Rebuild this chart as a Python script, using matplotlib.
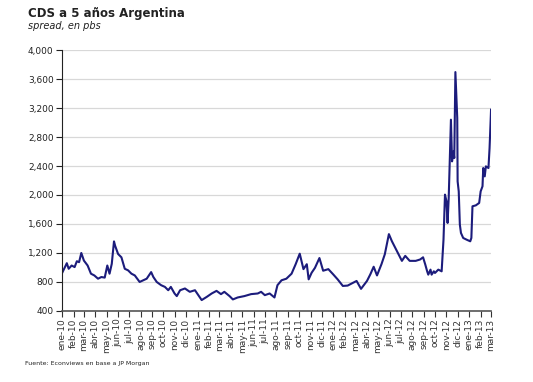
import numpy as np
import pandas as pd
import matplotlib
matplotlib.use('Agg')
import matplotlib.pyplot as plt
import matplotlib.dates as mdates
from matplotlib.ticker import FuncFormatter

# datos (CDS 5 años, pbs)
fechas = ['2010-01-01', '2010-01-14', '2010-01-19', '2010-01-27', '2010-02-04', '2010-02-10',
          '2010-02-16', '2010-02-22', '2010-03-01', '2010-03-11', '2010-03-20', '2010-03-29',
          '2010-04-08', '2010-04-17', '2010-04-26', '2010-05-03', '2010-05-09', '2010-05-15',
          '2010-05-21', '2010-05-24', '2010-06-01', '2010-06-10', '2010-06-19', '2010-06-28',
          '2010-07-07', '2010-07-16', '2010-07-29', '2010-08-08', '2010-08-17', '2010-08-29',
          '2010-09-04', '2010-09-13', '2010-09-25', '2010-10-05', '2010-10-14', '2010-10-21',
          '2010-10-31', '2010-11-06', '2010-11-15', '2010-11-28', '2010-12-11', '2010-12-25',
          '2011-01-12', '2011-01-26', '2011-02-08', '2011-02-21', '2011-03-05', '2011-03-14',
          '2011-03-28', '2011-04-06', '2011-04-19', '2011-05-07', '2011-05-25', '2011-06-12',
          '2011-06-21', '2011-07-01', '2011-07-14', '2011-07-27', '2011-08-04', '2011-08-15',
          '2011-08-28', '2011-09-11', '2011-09-22', '2011-10-03', '2011-10-13', '2011-10-22',
          '2011-10-27', '2011-11-04', '2011-11-13', '2011-11-25', '2011-12-05', '2011-12-19',
          '2012-01-01', '2012-01-13', '2012-01-27', '2012-02-09', '2012-02-24', '2012-03-04',
          '2012-03-16', '2012-04-01', '2012-04-10', '2012-04-19', '2012-04-28', '2012-05-10',
          '2012-05-19', '2012-05-30', '2012-06-07', '2012-06-16', '2012-06-25', '2012-07-04',
          '2012-07-13', '2012-07-25', '2012-08-10', '2012-08-22', '2012-08-30', '2012-09-05',
          '2012-09-10', '2012-09-13', '2012-09-19', '2012-09-22', '2012-09-28', '2012-10-01',
          '2012-10-10', '2012-10-19', '2012-10-24', '2012-10-28', '2012-11-01', '2012-11-04',
          '2012-11-07', '2012-11-13', '2012-11-16', '2012-11-20', '2012-11-22', '2012-11-25',
          '2012-11-30', '2012-12-01', '2012-12-04', '2012-12-07', '2012-12-10', '2012-12-16',
          '2012-12-25', '2013-01-04', '2013-01-07', '2013-01-10', '2013-01-19', '2013-01-28',
          '2013-02-01', '2013-02-06', '2013-02-08', '2013-02-12', '2013-02-15', '2013-02-22',
          '2013-02-25', '2013-03-01']
cds = [920, 1059, 982, 1027, 1005, 1086,
       1073, 1200, 1095, 1027, 914, 890,
       845, 868, 860, 1027, 914, 1050,
       1360, 1300, 1186, 1140, 982, 960,
       914, 890, 800, 823, 845, 936,
       868, 800, 755, 732, 686, 732,
       641, 605, 686, 710, 664, 686,
       550, 595, 641, 677, 632, 664,
       605, 559, 586, 605, 632, 641,
       664, 618, 641, 586, 755, 823,
       845, 914, 1045, 1190, 977, 1045,
       836, 927, 995, 1130, 955, 977,
       905, 836, 745, 750, 791, 814,
       705, 814, 905, 1010, 890, 1045,
       1182, 1460, 1363, 1273, 1182, 1091,
       1160, 1091, 1091, 1110, 1140, 1039,
       947, 901, 970, 901, 947, 924,
       970, 947, 1384, 2005, 1913, 1614,
       1959, 3039, 2464, 2602, 2510, 3696,
       3062, 2188, 2050, 1591, 1476, 1407,
       1384, 1361, 1407, 1844, 1857, 1890,
       2050, 2120, 2372, 2257, 2395, 2372,
       2648, 3177]

meses = ['ene', 'feb', 'mar', 'abr', 'may', 'jun', 'jul', 'ago', 'sep', 'oct', 'nov', 'dic']
y_ticks = [400, 800, 1200, 1600, 2000, 2400, 2800, 3200, 3600, 4000]

x = pd.to_datetime(fechas)
ticks_x = pd.date_range('2010-01-01', '2013-03-01', freq='MS')
etiquetas_x = [meses[d.month - 1] + '-' + str(d.year)[2:] for d in ticks_x]

plt.rcParams['font.family'] = ['DejaVu Sans']

fig = plt.figure(figsize=(5.33, 3.82), dpi=100)
ax = fig.add_axes([0.1163, 0.186, 0.805, 0.683])

ax.plot(x, cds, color='#1c1c7c', linewidth=1.5)

ax.set_ylim(400, 4000)
ax.set_yticks(y_ticks)
ax.yaxis.set_major_formatter(FuncFormatter(lambda v, p: '{:,.0f}'.format(v)))
ax.set_xlim(ticks_x[0], ticks_x[-1])
ax.set_xticks(ticks_x)
ax.set_xticklabels(etiquetas_x, rotation=90)

ax.grid(axis='y', color='#d8d8d8', linewidth=0.9)
ax.set_axisbelow(True)
for s in ['top', 'right']:
    ax.spines[s].set_visible(False)
ax.spines['left'].set_color('#222222')
ax.spines['bottom'].set_color('#555555')
ax.spines['bottom'].set_linewidth(1.2)
ax.tick_params(axis='y', direction='out', length=4, labelsize=6.5, colors='#222222', pad=2)
ax.tick_params(axis='x', direction='out', length=4, labelsize=6.5, colors='#333333', pad=1.5)

fig.text(28 / 533, 1 - 13 / 382, 'CDS a 5 años Argentina', fontsize=8.5, fontweight='bold',
         color='#222222', va='center')
fig.text(28 / 533, 1 - 26 / 382, 'spread, en pbs', fontsize=7, style='italic',
         color='#222222', va='center')
fig.text(25 / 533, 1 - 364 / 382, 'Fuente: Econviews en base a JP Morgan', fontsize=4.5,
         color='#222222', va='center')

fig.savefig('out.png', dpi=100)
